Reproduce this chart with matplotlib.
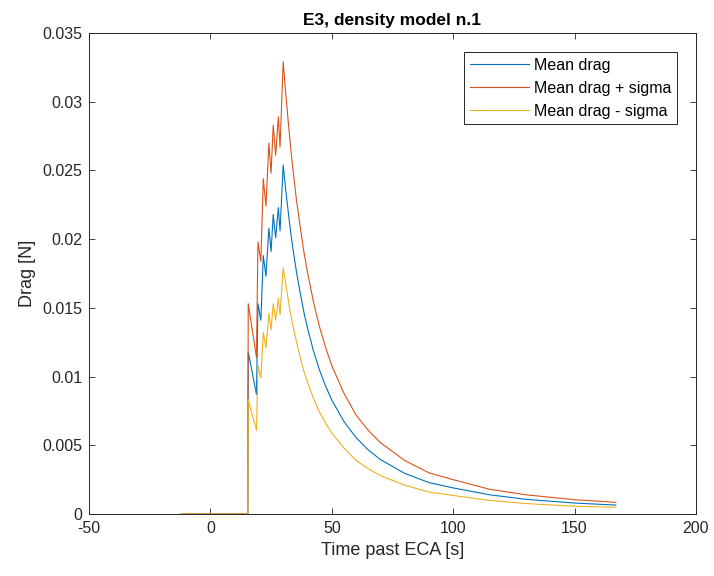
import matplotlib
matplotlib.use("Agg")
import matplotlib.pyplot as plt

plt.rcParams['font.family'] = ['Liberation Sans', 'DejaVu Sans']
plt.rcParams['axes.unicode_minus'] = False

# time [s]
t = [-12, 15.4, 15.6, 19.0, 19.6, 20.8, 21.8, 22.9, 24.1, 25.0, 25.9, 26.9, 28.0, 28.7, 30.0,
     31, 32, 33, 34, 35.5, 37, 38.5, 40, 42.5, 45, 47.5, 50, 55, 60, 65, 70, 80, 90, 100,
     115, 130, 150, 167]

mean_drag = [0, 0, 0.0118, 0.0087, 0.0153, 0.0141, 0.0188, 0.0173, 0.0208, 0.0191, 0.0218,
             0.0201, 0.0223, 0.0206, 0.0254,
             0.02364, 0.0221, 0.02061, 0.0193, 0.01757, 0.0161, 0.01471, 0.01353, 0.01185,
             0.01045, 0.00929, 0.0083, 0.00674, 0.00556, 0.00467, 0.00397, 0.00296, 0.00229,
             0.0019, 0.0014, 0.00107, 0.0008, 0.00065]

drag_plus = [0, 0, 0.0153, 0.0114, 0.0198, 0.0184, 0.0244, 0.0224, 0.0270, 0.0248, 0.0283,
             0.0261, 0.0289, 0.0267, 0.0329,
             0.0307, 0.0287, 0.0268, 0.0251, 0.0228, 0.0209, 0.0191, 0.0176, 0.0154,
             0.0136, 0.0121, 0.0108, 0.0088, 0.0072, 0.0061, 0.0052, 0.0039, 0.0030,
             0.0025, 0.0018, 0.0014, 0.00104, 0.00085]

drag_minus = [0, 0, 0.0083, 0.0061, 0.0108, 0.0099, 0.0132, 0.0121, 0.0146, 0.0134, 0.0153,
              0.0141, 0.0157, 0.0145, 0.0179,
              0.0168, 0.0157, 0.0146, 0.0137, 0.0125, 0.0114, 0.0104, 0.0096, 0.0084,
              0.0074, 0.0066, 0.0059, 0.0048, 0.0039, 0.0033, 0.0028, 0.0021, 0.0016,
              0.00135, 0.00099, 0.00076, 0.00057, 0.00049]

labels = ['Mean drag', 'Mean drag + sigma', 'Mean drag - sigma']
colors = ['#0072BD', '#D95319', '#EDB120']

fig = plt.figure(figsize=(7.14, 5.76), dpi=100)
ax = fig.add_axes([0.1246, 0.1076, 0.8501, 0.8351])

for y, lab, c in zip([mean_drag, drag_plus, drag_minus], labels, colors):
    ax.plot(t, y, color=c, lw=0.8, label=lab)

ax.set_xlim(-50, 200)
ax.set_ylim(0, 0.035)
ax.set_xticks([-50, 0, 50, 100, 150, 200])
ax.set_yticks([0, 0.005, 0.01, 0.015, 0.02, 0.025, 0.03, 0.035])
ax.set_yticklabels(['0', '0.005', '0.01', '0.015', '0.02', '0.025', '0.03', '0.035'])

ax.tick_params(direction='in', top=True, right=True, length=4, width=0.6,
               labelsize=11.5, colors='#262626', pad=5)
for s in ax.spines.values():
    s.set_linewidth(0.7)
    s.set_color('#262626')

ax.set_xlabel('Time past ECA [s]', fontsize=13, color='#262626')
ax.set_ylabel('Drag [N]', fontsize=13, color='#262626')
ax.set_title('E3, density model n.1', fontsize=12.5, fontweight='bold', pad=6)

leg = ax.legend(loc='upper right', bbox_to_anchor=(0.9687, 0.9605), borderaxespad=0,
                fontsize=11.5, handlelength=3.7, handletextpad=0.3, borderpad=0.35,
                labelspacing=0.5, fancybox=False, framealpha=1)
leg.get_frame().set_edgecolor('#262626')
leg.get_frame().set_linewidth(0.7)

fig.savefig('out.png', dpi=100)
